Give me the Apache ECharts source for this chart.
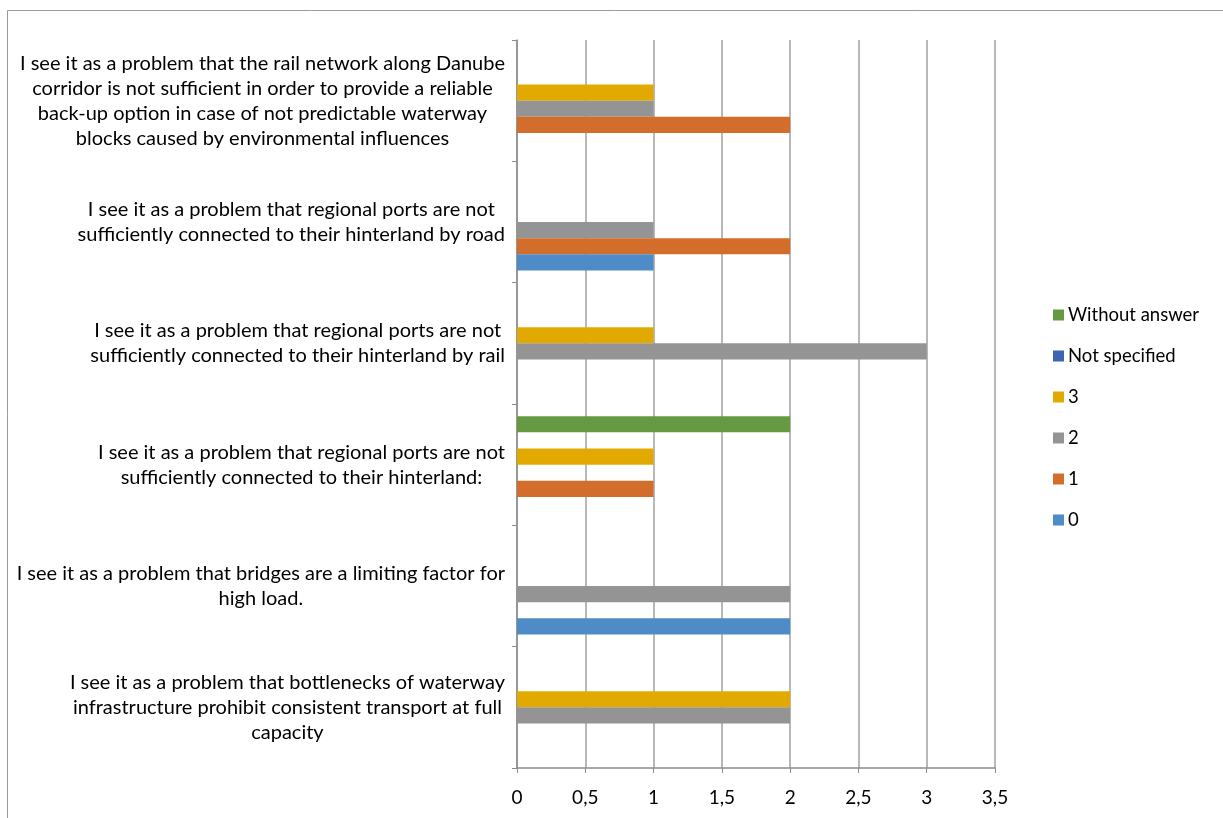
<!DOCTYPE html>
<html>
<head>
<meta charset="utf-8">
<script src="https://cdn.jsdelivr.net/npm/echarts@6/dist/echarts.min.js"></script>
<style>
html,body{margin:0;padding:0;background:#fff;}
#chart{width:1223px;height:818px;}
</style>
</head>
<body>
<div id="chart"></div>
<script>
// Categories listed bottom to top
const categories = [
  "I see it as a problem that bottlenecks of waterway\ninfrastructure prohibit consistent transport at full\ncapacity",
  "I see it as a problem that bridges are a limiting factor for\nhigh load.",
  "I see it as a problem that regional ports are not\nsufficiently connected to their hinterland:",
  "I see it as a problem that regional ports are not\nsufficiently connected to their hinterland by rail",
  "I see it as a problem that regional ports are not\nsufficiently connected to their hinterland by road",
  "I see it as a problem that the rail network along Danube\ncorridor is not sufficient in order to provide a reliable\nback-up option in case of not predictable waterway\nblocks caused by environmental influences"
];
const seriesNames = ["0", "1", "2", "3", "Not specified", "Without answer"];
const values0 = [0, 2, 0, 0, 1, 0];
const values1 = [0, 0, 1, 0, 2, 2];
const values2 = [2, 2, 0, 3, 1, 1];
const values3 = [2, 0, 1, 1, 0, 1];
const valuesNotSpecified = [0, 0, 0, 0, 0, 0];
const valuesWithoutAnswer = [0, 0, 2, 0, 0, 0];
const xTicks = { min: 0, max: 3.5, interval: 0.5 };

const colors = ["#4F8BC6", "#D36D2C", "#949494", "#E2AA00", "#3C64B2", "#669A42"];
const allValues = [values0, values1, values2, values3, valuesNotSpecified, valuesWithoutAnswer];
const FONT = "Lato";

// ECharts stacks horizontal bars top-down in series order, so add them reversed
const series = seriesNames.map((name, i) => ({
  name: name,
  type: 'bar',
  data: allValues[i],
  itemStyle: { color: colors[i] },
  barGap: '0%',
  barCategoryGap: '20%',
  animation: false
})).reverse();

const chart = echarts.init(document.getElementById('chart'), null, { renderer: 'canvas' });
chart.setOption({
  animation: false,
  backgroundColor: '#fff',
  graphic: [{
    type: 'rect',
    shape: { x: 7.5, y: 10.5, width: 1400, height: 1000 },
    style: { fill: null, stroke: '#9a9a9a', lineWidth: 1 },
    silent: true
  }],
  grid: { left: 517, right: 228, top: 40, bottom: 50, containLabel: false },
  legend: {
    orient: 'vertical',
    left: 1048,
    top: 300,
    itemWidth: 11,
    itemHeight: 11,
    itemGap: 21,
    icon: 'rect',
    data: ["Without answer", "Not specified", "3", "2", "1", "0"],
    textStyle: { fontFamily: FONT, fontSize: 18.5, lineHeight: 20, color: '#000', padding: [0, 0, 0, -1] }
  },
  xAxis: {
    type: 'value',
    min: xTicks.min,
    max: xTicks.max,
    interval: xTicks.interval,
    axisLine: { show: true, lineStyle: { color: '#8c8c8c', width: 1.5 } },
    axisTick: { show: true, length: 5, lineStyle: { color: '#8c8c8c' } },
    splitLine: { show: true, lineStyle: { color: '#a0a0a0', width: 1.5 } },
    axisLabel: {
      margin: 20,
      fontFamily: FONT, fontSize: 19, color: '#000',
      formatter: v => String(v).replace('.', ',')
    }
  },
  yAxis: {
    type: 'category',
    data: categories,
    axisLine: { show: true, lineStyle: { color: '#8c8c8c', width: 1.5 } },
    axisTick: { show: true, length: 5, lineStyle: { color: '#8c8c8c' } },
    axisLabel: {
      margin: 12,
      interval: 0,
      formatter: v => v.split('\n').map(l => '{c|' + l + '}').join('\n'),
      rich: { c: { align: 'center', fontFamily: FONT, fontSize: 20, lineHeight: 25, color: '#000' } }
    }
  },
  series: series
});
</script>
</body>
</html>
